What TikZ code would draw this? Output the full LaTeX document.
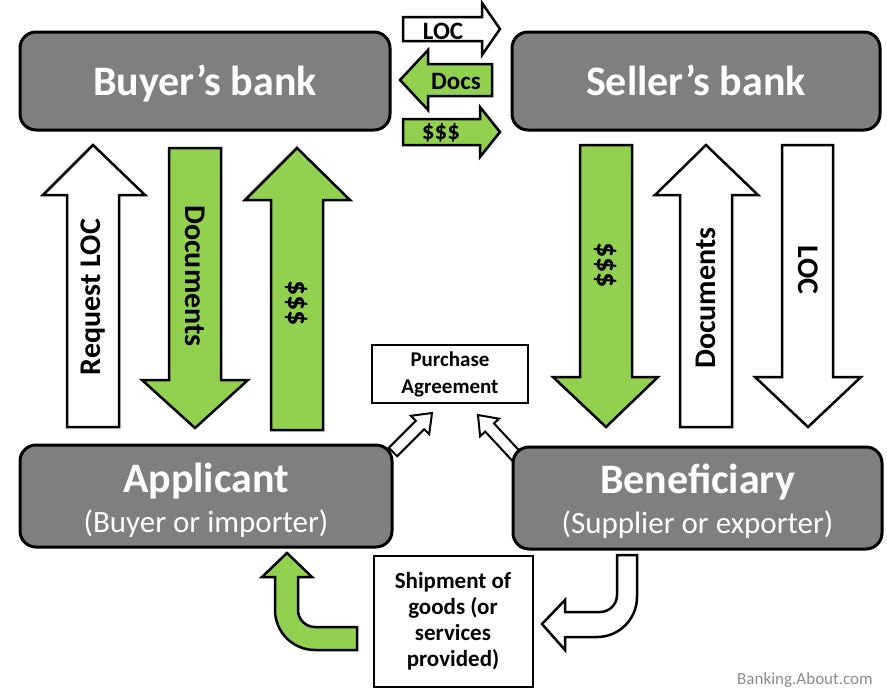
\documentclass[tikz,border=0pt]{standalone}
\usepackage{fontspec}
\setmainfont{Carlito}
\definecolor{boxgray}{RGB}{127,127,127}
\definecolor{lgreen}{RGB}{146,208,80}
\definecolor{wmgray}{RGB}{140,140,140}
\newcommand\fs[1]{\fontsize{#1}{#1}\selectfont}
\begin{document}
\begin{tikzpicture}[x=1pt,y=-1pt,
  graybox/.style={draw=black,line width=3pt,fill=boxgray,rounded corners=16pt,inner sep=0pt},
  plainbox/.style={draw=black,line width=2pt,fill=white,inner sep=0pt},
  greenarr/.style={draw=black,line width=2.5pt,fill=lgreen,line join=miter},
  whitearr/.style={draw=black,line width=2.5pt,fill=white,line join=miter},
  bigtxt/.style={text=white,font=\fs{42}\bfseries,inner sep=0pt,anchor=base},
  subtxt/.style={text=white,font=\fs{31},inner sep=0pt,anchor=base},
  arrtxt/.style={text=black,font=\fs{30}\bfseries,inner sep=0pt},
  toptxt/.style={text=black,font=\fs{25}\bfseries,inner sep=0pt}]
\useasboundingbox (0,0) rectangle (887,689);
\fill[white] (0,0) rectangle (887,689);

% ---- top horizontal arrows
\draw[whitearr] (403,17) -- (482,17) -- (482,3) -- (500,29) -- (482,55) -- (482,41) -- (403,41) -- cycle;
\node[toptxt] (tloc) at (443,31) {LOC};
\draw[greenarr] (492,64) -- (428,64) -- (428,50) -- (400,80) -- (428,110) -- (428,96) -- (492,96) -- cycle;
\node[toptxt] (tdocs) at (456,81) {Docs};
\draw[greenarr] (403,119) -- (480,119) -- (480,107) -- (500,132) -- (480,157) -- (480,145) -- (403,145) -- cycle;
\node[toptxt] (tmoney) at (441,133) {\$\$\$};

% ---- left vertical arrows
\draw[whitearr] (67,427) -- (67,195) -- (43,195) -- (93,145) -- (145,195) -- (119,195) -- (119,427) -- cycle;
\node[arrtxt,rotate=90] (reqloc) at (93,297) {Request LOC};
\draw[greenarr] (169,148) -- (221,148) -- (221,380) -- (248,380) -- (195,428) -- (142,380) -- (169,380) -- cycle;
\node[arrtxt,rotate=-90] (ldocs) at (195,276) {Documents};
\draw[greenarr] (271,430) -- (271,200) -- (245,200) -- (297,148) -- (350,200) -- (323,200) -- (323,430) -- cycle;
\node[arrtxt,rotate=-90] (lmoney) at (297,303) {\$\$\$};

% ---- right vertical arrows
\draw[greenarr] (580,145) -- (632,145) -- (632,377) -- (658,377) -- (606,427) -- (553,377) -- (580,377) -- cycle;
\node[arrtxt,rotate=-90] (rmoney) at (606,265) {\$\$\$};
\draw[whitearr] (680,427) -- (680,195) -- (655,195) -- (706,145) -- (758,195) -- (732,195) -- (732,427) -- cycle;
\node[arrtxt,rotate=90] (rdocs) at (706,298) {Documents};
\draw[whitearr] (782,145) -- (833,145) -- (833,377) -- (861,377) -- (808,427) -- (755,377) -- (782,377) -- cycle;
\node[arrtxt,rotate=-90] (rloc) at (808,270) {LOC};

% ---- small diagonal arrows
\draw[whitearr,line width=2pt] (397.2,456.2) -- (424.2,429.2) -- (429.2,434.2) -- (432,413) -- (410.8,415.8) -- (415.8,420.8) -- (388.8,447.8) -- cycle;
\draw[whitearr,line width=2pt] (521.4,452.9) -- (494,423.4) -- (499.1,418.7) -- (478,415) -- (480.1,436.3) -- (485.2,431.6) -- (512.6,461.1) -- cycle;

% ---- boxes
\node[graybox,minimum width=370pt,minimum height=98pt] (buyer) at (205,81) {};
\node[bigtxt] (buyertxt) at (205,95) {Buyer’s bank};
\node[graybox,minimum width=368pt,minimum height=98pt] (seller) at (696,81) {};
\node[bigtxt] (sellertxt) at (696,95) {Seller’s bank};
\node[graybox,minimum width=372pt,minimum height=102pt] (applicant) at (206,496) {};
\node[bigtxt] (apptxt) at (206,492) {Applicant};
\node[subtxt] (appsub) at (206,532) {(Buyer or importer)};
\node[graybox,minimum width=369pt,minimum height=102pt] (beneficiary) at (697.5,498) {};
\node[bigtxt] (bentxt) at (697.5,493) {Beneficiary};
\node[subtxt] (bensub) at (697.5,533) {(Supplier or exporter)};

\node[plainbox,minimum width=156pt,minimum height=58pt,align=center,font=\fontsize{21}{27}\selectfont\bfseries] (purchase) at (450,374) {Purchase\\Agreement};
\node[plainbox,minimum width=159pt,minimum height=131pt,align=center,font=\fontsize{23}{26}\selectfont\bfseries] (shipment) at (453,621) {Shipment of\\goods (or\\services\\provided)};

% ---- bent arrows
\draw[greenarr] (287,553) -- (312,577) -- (298,577) -- (298,610)
  .. controls (298,619.4) and (305.6,627) .. (315,627) -- (357,627) -- (357,650) -- (315,650)
  .. controls (292.9,650) and (275,632.1) .. (275,610) -- (275,577) -- (262,577) -- cycle;
\draw[whitearr] (617,555) -- (637,555) -- (637,597)
  .. controls (637,619.1) and (619.1,637) .. (597,637) -- (565,637) -- (565,650) -- (542,624) -- (565,600) -- (565,612) -- (600,612)
  .. controls (609.4,612) and (617,604.4) .. (617,595) -- cycle;

\node[text=wmgray,font=\fs{17},inner sep=0pt,anchor=base] (wm) at (805,684) {Banking.About.com};
\end{tikzpicture}
\end{document}
